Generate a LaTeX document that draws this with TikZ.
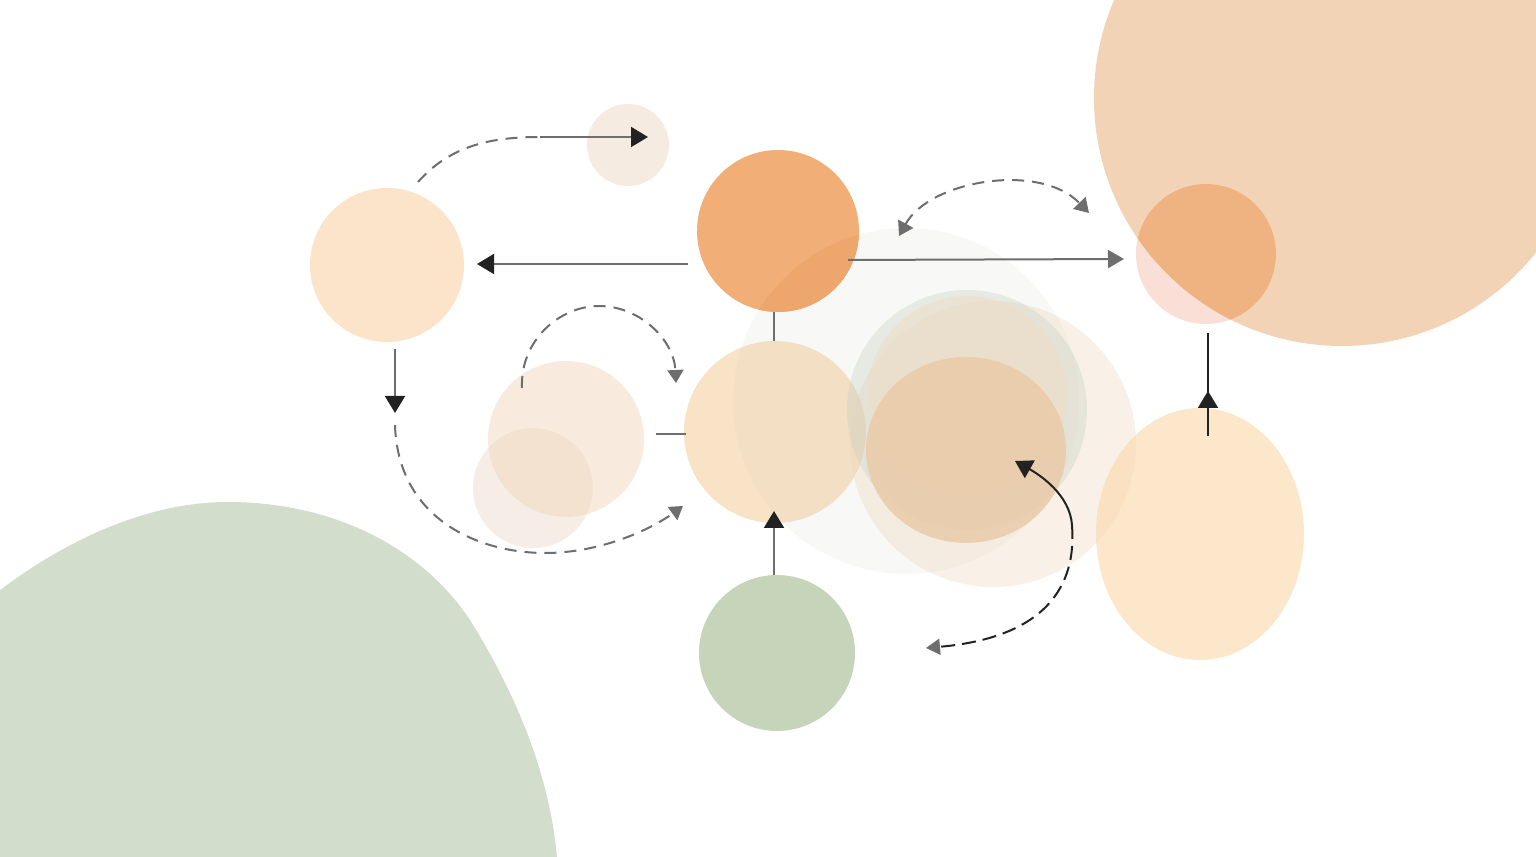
\documentclass[tikz,border=0pt]{standalone}
\usetikzlibrary{arrows.meta,calc,shapes.geometric}
\definecolor{bigGreen}{HTML}{D3DDCB}
\definecolor{bigPeach}{HTML}{F2D3B6}
\definecolor{rsPink}{HTML}{FADFD6}
\definecolor{rsOrange}{HTML}{EFB281}
\definecolor{topC}{HTML}{F6EBE0}
\definecolor{lftC}{HTML}{FBE4C9}
\definecolor{aC}{HTML}{F3D9BC}
\definecolor{bC}{HTML}{EDD5C6}
\definecolor{ornC}{HTML}{F1AF77}
\definecolor{ornDark}{HTML}{EDA66B}
\definecolor{ctrC}{HTML}{F8E3C7}
\definecolor{grnC}{HTML}{C6D4BA}
\definecolor{fgC}{HTML}{C8C4B4}
\definecolor{fbC}{HTML}{F0D8BC}
\definecolor{ggC}{HTML}{C5D0C2}
\definecolor{bgC}{HTML}{F0DCC0}
\definecolor{tanC}{HTML}{E9CBA8}
\definecolor{relC}{HTML}{FAD7A8}
\definecolor{lineGrey}{HTML}{6E6E6E}
\definecolor{lineDark}{HTML}{222222}
\tikzset{
  blob/.style={circle, inner sep=0pt, outer sep=0pt, draw=none},
  oval/.style={ellipse, inner sep=0pt, outer sep=0pt, draw=none},
  greyline/.style={draw=lineGrey, line width=0.2mm},
  darkline/.style={draw=lineDark, line width=0.2mm},
  dashline/.style={draw=lineGrey, line width=0.2mm, dash pattern=on 1.2mm off 0.8mm},
  darkdash/.style={draw=lineDark, line width=0.2mm, dash pattern=on 1.4mm off 0.7mm},
  tipdark/.style={-{Triangle[length=1.7mm,width=2mm,color=lineDark]}},
  tipgrey/.style={-{Triangle[length=1.6mm,width=1.8mm,color=lineGrey]}},
  tipsmall/.style={-{Triangle[length=1.3mm,width=1.6mm,color=lineGrey]}},
}
\begin{document}
\begin{tikzpicture}[x=0.1mm,y=-0.1mm]
\useasboundingbox (0,0) rectangle (1536,857);
\fill[white] (0,0) rectangle (1536,857);
\begin{scope}
\clip (0,0) rectangle (1536,857);
% big green shape
\fill[bigGreen] (-30,615) .. controls (20,570) and (120,502) .. (228,502) .. controls (330,502) and (420,545) .. (470,620) .. controls (520,700) and (550,780) .. (557,857) -- (560,900) -- (-30,900) -- cycle;
% big peach
\node[blob, minimum size=49.6mm, fill=bigPeach] (big) at (1342,98) {};
% small right circle
\node[blob, minimum size=14mm, fill=rsPink] (rsm) at (1206,254) {};
\begin{scope}
\clip (1342,98) circle[radius=248];
\fill[rsOrange] (1206,254) circle[radius=70];
\end{scope}
% small top circle
\node[blob, minimum size=8.2mm, fill=topC] (top) at (628,145) {};
% left circle
\node[blob, minimum size=15.4mm, fill=lftC] (lft) at (387,265) {};
% left pair
\node[blob, minimum size=12mm, fill=bC, fill opacity=0.42] (cb) at (533,488) {};
\node[blob, minimum size=15.6mm, fill=aC, fill opacity=0.5] (ca) at (566,439) {};
% orange
\node[blob, minimum size=16.2mm, fill=ornC] (orn) at (778,231) {};
% center
\node[blob, minimum size=18.2mm, fill=ctrC] (ctr) at (775,432) {};
% green small
\node[blob, minimum size=15.6mm, fill=grnC] (grn) at (777,653) {};
% faint grey
\node[blob, minimum size=34.6mm, fill=fgC, fill opacity=0.11] (fg) at (906,401) {};
\begin{scope}
\clip (906,401) circle[radius=173];
\fill[ornDark] (778,231) circle[radius=81];
\end{scope}
% faint beige
\node[blob, minimum size=28.6mm, fill=fbC, fill opacity=0.35] (fb) at (993,444) {};
% grey green
\node[blob, minimum size=24mm, fill=ggC, fill opacity=0.35] (gg) at (967,410) {};
% beige
\node[blob, minimum size=20mm, fill=bgC, fill opacity=0.45] (bg) at (967,396) {};
% tan
\node[oval, minimum width=20mm, minimum height=18.6mm, fill=tanC, fill opacity=0.85] (tan) at (966,450) {};
% right ellipse
\node[oval, minimum width=20.8mm, minimum height=25.2mm, fill=relC, fill opacity=0.6] (rel) at (1200,534) {};
\end{scope}

% connectors
\coordinate (a0) at (418,182);
\coordinate (a1) at (540,137);
\draw[dashline] (a0) .. controls (450,146) and (490,137) .. (a1);
\draw[greyline, tipdark] (a1) -- ($(top.center)+(20,-8)$);

\draw[greyline, tipdark] ($(orn.west)+(-9,33)$) -- ($(lft.east)+(13,-1)$);

\coordinate (c0) at (522,388);
\coordinate (c1) at (676,383);
\draw[dashline, tipsmall] (c0) .. controls (520,340) and (560,306) .. (599,306) .. controls (640,306) and (674,340) .. (c1);

\draw[greyline, tipdark] ($(lft.south)+(8,7)$) -- ($(lft.south)+(8,71)$);

\coordinate (e0) at (395,425);
\coordinate (e1) at (683,506);
\draw[dashline, tipsmall] (e0) .. controls (398,520) and (480,553) .. (545,553) .. controls (600,553) and (650,530) .. (e1);

\draw[greyline] ($(ca.east)+(12,-5)$) -- ($(ctr.west)+(2,2)$);
\draw[greyline] ($(orn.south)+(-4,0)$) -- ($(ctr.north)+(-1,0)$);
\draw[greyline, tipdark] ($(grn.north)+(-3,0)$) -- ($(ctr.south)+(-1,-12)$);

\draw[greyline, tipgrey] ($(orn.east)+(-11,29)$) -- ($(rsm.west)+(-12,5)$);

\coordinate (j0) at (899,236);
\coordinate (j1) at (1089,213);
\draw[dashline, {Triangle[length=1.4mm,width=1.7mm,color=lineGrey]}-{Triangle[length=1.4mm,width=1.7mm,color=lineGrey]}] (j0) .. controls (930,180) and (1040,162) .. (j1);

\coordinate (k0) at (1208,436);
\coordinate (k1) at (1208,391);
\draw[darkline, tipdark] (k0) -- (k1);
\draw[darkline] ($(k1)+(0,10)$) -- ($(rsm.south)+(2,9)$);

\coordinate (l0) at (1072,525);
\coordinate (l1) at (1015,461);
\coordinate (l2) at (926,648);
\draw[darkline, tipdark] (l0) .. controls (1070,495) and (1040,475) .. (l1);
\draw[darkdash, -{Triangle[length=1.4mm,width=1.6mm,color=lineGrey]}] (l0) .. controls (1074,555) and (1075,635) .. (l2);
\end{tikzpicture}
\end{document}
